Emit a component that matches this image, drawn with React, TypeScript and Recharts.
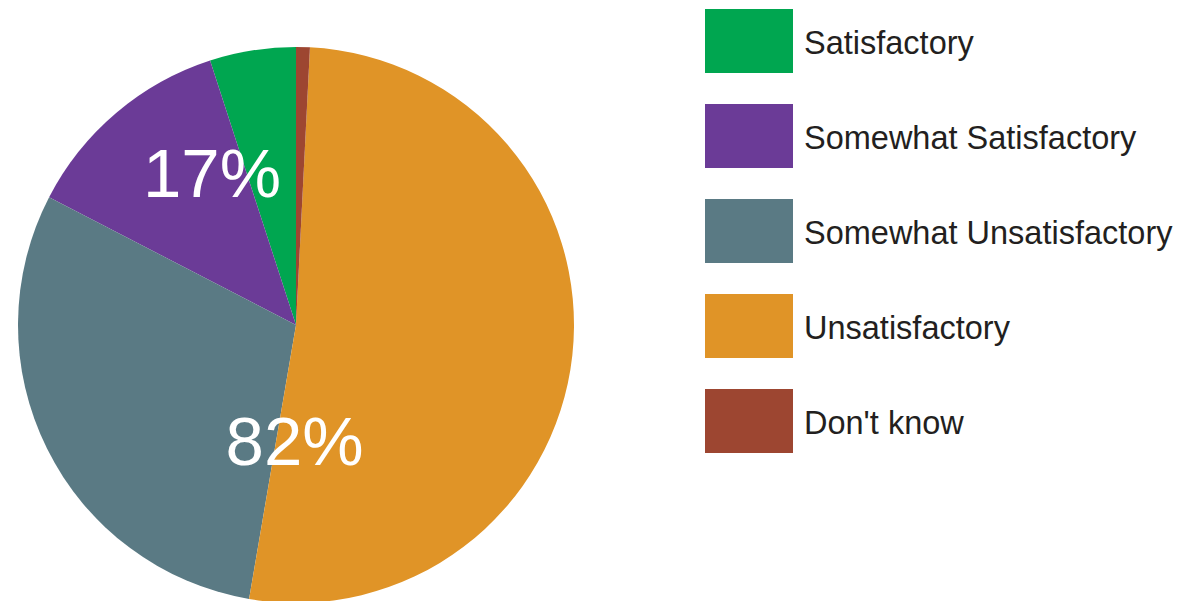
import { Legend, Pie, PieChart, Cell } from "recharts";

const categories = [
  "Satisfactory",
  "Somewhat Satisfactory",
  "Somewhat Unsatisfactory",
  "Unsatisfactory",
  "Don't know",
];
const values = [5, 12.4, 29.9, 51.9, 0.8];
const colors = ["#00a650", "#6b3b97", "#5a7a84", "#e09427", "#9d4631"];

// group labels shown on the pie, keyed by the slice they are drawn with
const groupLabels = ["17%", "", "", "82%", ""];

const data = categories.map((name, i) => ({ name, value: values[i] }));

const FONT = "'Liberation Sans', Arial, sans-serif";

function renderGroupLabel(props: any) {
  const { cx, cy, outerRadius, index } = props;
  const text = groupLabels[index];
  if (!text) return null;
  // offsets as a share of the radius
  const pos = index === 0 ? { dx: -0.302, dy: -0.46 } : { dx: -0.005, dy: 0.504 };
  return (
    <text
      x={cx + pos.dx * outerRadius}
      y={cy + pos.dy * outerRadius}
      fill="#fff"
      textAnchor="middle"
      fontFamily={FONT}
      fontSize={69}
    >
      {text}
    </text>
  );
}

function LegendList() {
  return (
    <div style={{ fontFamily: FONT }}>
      {categories.map((name, i) => (
        <div
          key={name}
          style={{ display: "flex", alignItems: "center", height: 64, marginBottom: 31 }}
        >
          <div style={{ width: 88, height: 64, background: colors[i] }} />
          <span
            style={{
              marginLeft: 11,
              marginTop: 4,
              fontSize: 32.5,
              color: "#231f20",
              whiteSpace: "nowrap",
            }}
          >
            {name}
          </span>
        </div>
      ))}
    </div>
  );
}

export default function App() {
  return (
    <div style={{ position: "absolute", left: 0, top: 0, width: 1183, height: 601, background: "#fff" }}>
      <PieChart width={1183} height={601} margin={{ top: 0, right: 0, bottom: 0, left: 0 }}>
        <Pie
          data={data}
          dataKey="value"
          nameKey="name"
          cx={296}
          cy={325}
          outerRadius={278}
          startAngle={90}
          endAngle={450}
          stroke="none"
          labelLine={false}
          label={renderGroupLabel}
          isAnimationActive={false}
        >
          {data.map((d, i) => (
            <Cell key={d.name} fill={colors[i]} />
          ))}
        </Pie>
        <Legend
          layout="vertical"
          content={() => <LegendList />}
          wrapperStyle={{ position: "absolute", left: 705, top: 9, width: 478 }}
        />
      </PieChart>
    </div>
  );
}
